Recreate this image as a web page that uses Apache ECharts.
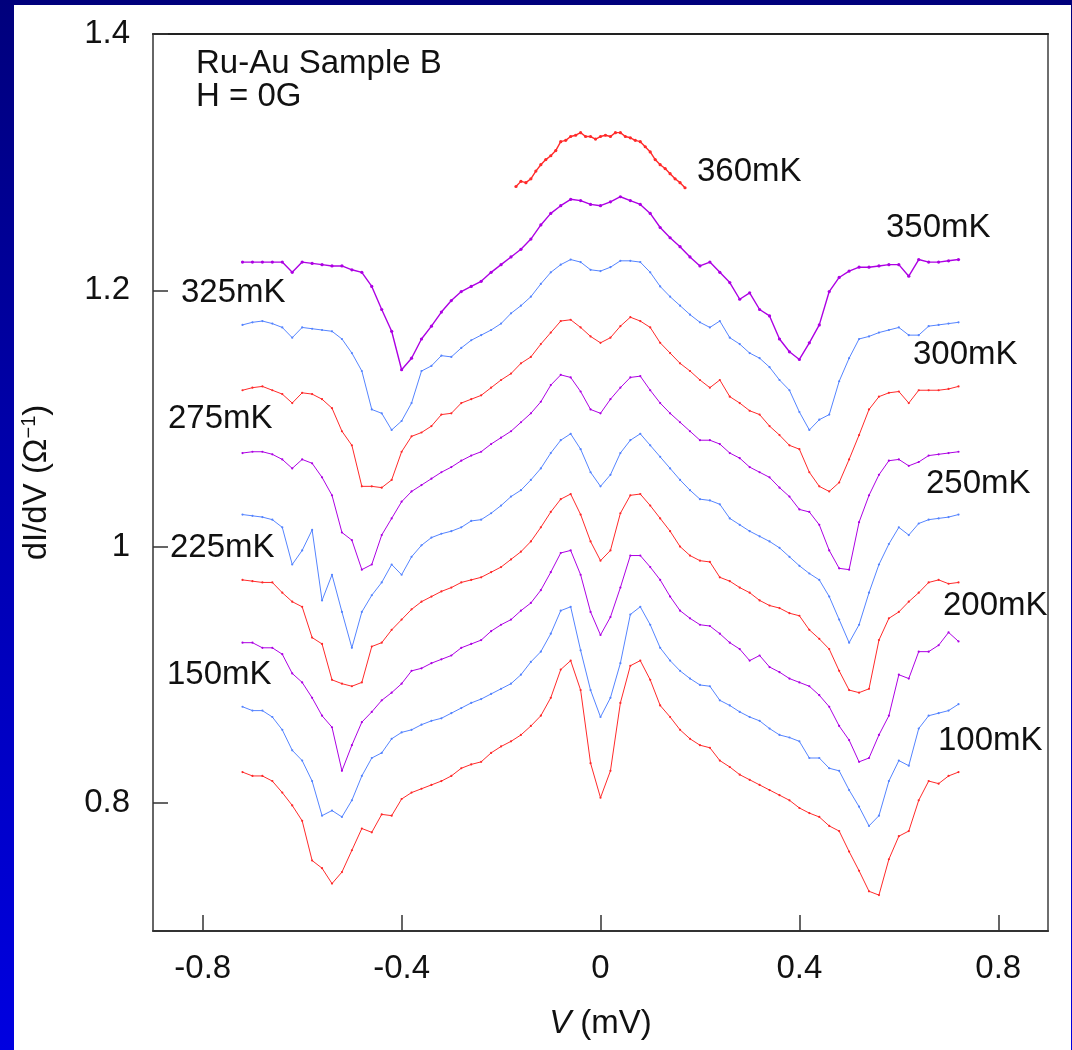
<!DOCTYPE html>
<html>
<head>
<meta charset="utf-8">
<script src="https://cdn.jsdelivr.net/npm/echarts@6/dist/echarts.min.js"></script>
<style>
html,body{margin:0;padding:0;width:1072px;height:1050px;overflow:hidden;
  background:linear-gradient(to bottom,#00007c 0%,#0000a8 40%,#0000e0 100%);}
#paper{position:absolute;left:14px;top:5px;width:1057px;height:1045px;background:#ffffff;}
#chart{position:absolute;left:0;top:0;width:1072px;height:1050px;}
</style>
</head>
<body>
<div id="paper"></div>
<div id="chart"></div>
<script>
// ---- data (V in mV, dI/dV in 1/Ohm) ----
const voltage = [-0.72,-0.70,-0.68,-0.66,-0.64,-0.62,-0.60,-0.58,-0.56,-0.54,-0.52,-0.50,-0.48,-0.46,-0.44,-0.42,-0.40,-0.38,-0.36,-0.34,-0.32,-0.30,-0.28,-0.26,-0.24,-0.22,-0.20,-0.18,-0.16,-0.14,-0.12,-0.10,-0.08,-0.06,-0.04,-0.02,0,0.02,0.04,0.06,0.08,0.10,0.12,0.14,0.16,0.18,0.20,0.22,0.24,0.26,0.28,0.30,0.32,0.34,0.36,0.38,0.40,0.42,0.44,0.46,0.48,0.50,0.52,0.54,0.56,0.58,0.60,0.62,0.64,0.66,0.68,0.70,0.72];
const voltage360 = [-0.17,-0.16,-0.15,-0.14,-0.13,-0.12,-0.11,-0.10,-0.09,-0.08,-0.07,-0.06,-0.05,-0.04,-0.03,-0.02,-0.01,0,0.01,0.02,0.03,0.04,0.05,0.06,0.07,0.08,0.09,0.10,0.11,0.12,0.13,0.14,0.15,0.16,0.17];

const dIdV_360mK = [1.281,1.285,1.284,1.287,1.293,1.298,1.302,1.305,1.309,1.316,1.317,1.320,1.321,1.323,1.320,1.320,1.318,1.320,1.321,1.320,1.323,1.323,1.320,1.319,1.317,1.316,1.312,1.308,1.302,1.298,1.295,1.291,1.287,1.284,1.280];
const dIdV_350mK = [1.222,1.222,1.222,1.222,1.222,1.214,1.222,1.221,1.220,1.219,1.219,1.216,1.214,1.203,1.185,1.168,1.138,1.147,1.162,1.172,1.183,1.192,1.199,1.203,1.207,1.214,1.220,1.226,1.232,1.240,1.251,1.260,1.266,1.271,1.270,1.267,1.266,1.269,1.273,1.270,1.267,1.260,1.249,1.241,1.234,1.226,1.219,1.222,1.214,1.206,1.193,1.198,1.185,1.180,1.162,1.152,1.146,1.159,1.173,1.199,1.210,1.215,1.218,1.218,1.219,1.220,1.220,1.211,1.224,1.222,1.222,1.223,1.224];
const dIdV_325mK = [1.173,1.175,1.176,1.174,1.171,1.163,1.171,1.170,1.169,1.168,1.162,1.151,1.137,1.107,1.104,1.091,1.098,1.112,1.137,1.141,1.149,1.148,1.155,1.161,1.165,1.169,1.174,1.182,1.188,1.195,1.205,1.214,1.220,1.224,1.222,1.216,1.215,1.218,1.223,1.223,1.222,1.214,1.203,1.195,1.188,1.181,1.175,1.171,1.176,1.163,1.158,1.151,1.147,1.140,1.130,1.122,1.105,1.091,1.099,1.103,1.129,1.147,1.162,1.164,1.167,1.169,1.171,1.165,1.165,1.172,1.173,1.174,1.175];
const dIdV_300mK = [1.122,1.124,1.125,1.122,1.119,1.112,1.120,1.119,1.115,1.108,1.090,1.079,1.047,1.047,1.046,1.052,1.074,1.086,1.089,1.094,1.103,1.104,1.112,1.115,1.118,1.124,1.130,1.135,1.143,1.148,1.158,1.167,1.176,1.177,1.171,1.164,1.159,1.163,1.172,1.179,1.176,1.171,1.159,1.151,1.143,1.137,1.130,1.124,1.130,1.117,1.112,1.106,1.103,1.094,1.087,1.079,1.076,1.058,1.047,1.043,1.050,1.068,1.087,1.107,1.117,1.120,1.121,1.112,1.122,1.122,1.122,1.123,1.125];
const dIdV_275mK = [1.073,1.074,1.074,1.072,1.068,1.061,1.068,1.065,1.054,1.040,1.011,1.005,0.982,0.986,1.009,1.022,1.035,1.043,1.048,1.053,1.058,1.062,1.067,1.071,1.074,1.080,1.085,1.090,1.097,1.104,1.113,1.126,1.134,1.132,1.121,1.107,1.104,1.115,1.124,1.132,1.133,1.122,1.112,1.104,1.097,1.090,1.083,1.083,1.080,1.073,1.069,1.062,1.058,1.054,1.046,1.039,1.029,1.027,1.017,0.997,0.983,0.982,1.019,1.040,1.056,1.067,1.068,1.063,1.066,1.071,1.072,1.073,1.074];
const dIdV_250mK = [1.025,1.024,1.023,1.021,1.015,0.986,0.997,1.013,0.958,0.978,0.949,0.921,0.949,0.962,0.972,0.986,0.978,0.992,1.001,1.007,1.010,1.012,1.015,1.020,1.021,1.026,1.032,1.039,1.044,1.052,1.061,1.073,1.083,1.088,1.076,1.058,1.047,1.056,1.073,1.083,1.088,1.079,1.070,1.061,1.052,1.044,1.037,1.036,1.033,1.022,1.017,1.012,1.008,1.004,0.999,0.992,0.985,0.979,0.974,0.961,0.943,0.925,0.939,0.964,0.986,1.002,1.015,1.009,1.018,1.021,1.022,1.023,1.025];
const dIdV_225mK = [0.974,0.973,0.972,0.972,0.964,0.957,0.953,0.929,0.924,0.896,0.893,0.891,0.894,0.922,0.925,0.935,0.943,0.951,0.957,0.961,0.965,0.968,0.972,0.974,0.976,0.980,0.984,0.990,0.996,1.004,1.015,1.027,1.037,1.041,1.025,1.004,0.989,0.997,1.026,1.040,1.041,1.032,1.022,1.012,1.000,0.993,0.989,0.988,0.976,0.973,0.968,0.964,0.958,0.954,0.952,0.948,0.946,0.935,0.928,0.920,0.903,0.888,0.886,0.889,0.927,0.944,0.949,0.957,0.964,0.972,0.974,0.971,0.972];
const dIdV_200mK = [0.925,0.925,0.921,0.921,0.916,0.901,0.894,0.882,0.868,0.859,0.825,0.845,0.863,0.871,0.880,0.886,0.893,0.903,0.905,0.909,0.912,0.915,0.921,0.924,0.927,0.934,0.939,0.943,0.950,0.956,0.966,0.980,0.995,0.997,0.978,0.949,0.931,0.945,0.968,0.993,0.993,0.984,0.974,0.961,0.950,0.944,0.939,0.938,0.932,0.925,0.920,0.911,0.915,0.906,0.902,0.897,0.894,0.891,0.884,0.875,0.860,0.849,0.832,0.835,0.853,0.868,0.900,0.897,0.918,0.918,0.923,0.933,0.926];
const dIdV_150mK = [0.875,0.872,0.872,0.867,0.857,0.841,0.833,0.817,0.790,0.794,0.789,0.802,0.821,0.835,0.839,0.850,0.855,0.857,0.861,0.864,0.866,0.870,0.874,0.878,0.881,0.885,0.889,0.893,0.900,0.910,0.918,0.932,0.950,0.953,0.919,0.888,0.867,0.882,0.909,0.947,0.953,0.939,0.921,0.911,0.903,0.897,0.892,0.891,0.880,0.876,0.871,0.867,0.864,0.858,0.853,0.851,0.848,0.835,0.835,0.827,0.825,0.810,0.797,0.782,0.790,0.817,0.833,0.829,0.858,0.868,0.870,0.872,0.877];
const dIdV_100mK = [0.824,0.821,0.821,0.817,0.808,0.798,0.786,0.755,0.749,0.737,0.746,0.763,0.780,0.777,0.791,0.790,0.803,0.808,0.811,0.814,0.817,0.821,0.827,0.830,0.832,0.839,0.844,0.848,0.853,0.860,0.868,0.882,0.904,0.911,0.888,0.831,0.804,0.825,0.878,0.907,0.911,0.896,0.876,0.867,0.857,0.850,0.845,0.843,0.833,0.828,0.822,0.818,0.814,0.810,0.806,0.802,0.796,0.792,0.789,0.782,0.778,0.762,0.747,0.731,0.728,0.756,0.774,0.778,0.802,0.817,0.815,0.821,0.824];

const temperatureLabels = ['360mK','350mK','325mK','300mK','275mK','250mK','225mK','200mK','150mK','100mK'];
const xTickValues = [-0.8,-0.4,0,0.4,0.8];
const yTickValues = [0.8,1,1.2,1.4];
const annotationLines = ['Ru-Au Sample B','H = 0G'];

// ---- styling / layout ----
const FONT = '"Liberation Sans", Arial, Helvetica, sans-serif';
const FS = 33;
const RED = '#ff2a2a', PURPLE = '#ad00e3', BLUE = '#5584ff';
const curves = [
  {x: voltage360, y: dIdV_360mK, color: RED, bold: true},
  {x: voltage, y: dIdV_350mK, color: PURPLE, bold: true},
  {x: voltage, y: dIdV_325mK, color: BLUE},
  {x: voltage, y: dIdV_300mK, color: RED},
  {x: voltage, y: dIdV_275mK, color: PURPLE},
  {x: voltage, y: dIdV_250mK, color: BLUE},
  {x: voltage, y: dIdV_225mK, color: RED},
  {x: voltage, y: dIdV_200mK, color: PURPLE},
  {x: voltage, y: dIdV_150mK, color: BLUE},
  {x: voltage, y: dIdV_100mK, color: RED}
];
// pixel anchors (left x, middle y) for the curve labels
const labelAnchors = [[697,172],[886,228],[181,293],[913,355],[168,419],[926,484],[170,548],[943,606],[167,675],[938,741]];
const annotationAnchors = [[196,64],[196,97]];

const chart = echarts.init(document.getElementById('chart'), null, {renderer: 'canvas'});
const fmt = v => (v === 0 ? '0' : String(v));
const AX = '#333333';

const graphics = [];
temperatureLabels.forEach((t, i) => {
  graphics.push({type: 'text', x: labelAnchors[i][0], y: labelAnchors[i][1], silent: true,
    style: {text: t, fontSize: FS, fontFamily: FONT, fill: '#111', verticalAlign: 'middle', align: 'left'}});
});
annotationLines.forEach((t, i) => {
  graphics.push({type: 'text', x: annotationAnchors[i][0], y: annotationAnchors[i][1], silent: true,
    style: {text: t, fontSize: FS, fontFamily: FONT, fill: '#111', verticalAlign: 'middle', align: 'left'}});
});

const option = {
  animation: false,
  grid: {left: 153, top: 34, right: 24, bottom: 119, show: false},
  xAxis: [{
    type: 'value', min: -0.9, max: 0.9, position: 'bottom',
    axisLine: {show: true, onZero: false, lineStyle: {color: AX, width: 2}},
    axisTick: {show: true, inside: true, length: 16, customValues: xTickValues, lineStyle: {color: AX, width: 1.5}},
    axisLabel: {show: true, customValues: xTickValues, margin: 21, fontSize: FS, lineHeight: 34, fontFamily: FONT, color: '#111', formatter: fmt},
    splitLine: {show: false},
    name: '{i|V} (mV)', nameLocation: 'middle', nameGap: 75,
    nameTextStyle: {fontSize: FS, fontFamily: FONT, color: '#111', lineHeight: 36,
      rich: {i: {fontStyle: 'italic', fontSize: FS, fontFamily: FONT, color: '#111', lineHeight: 36}}}
  }, {
    type: 'value', min: -0.9, max: 0.9, position: 'top',
    axisLine: {show: true, onZero: false, lineStyle: {color: '#222', width: 2}},
    axisTick: {show: false}, axisLabel: {show: false}, splitLine: {show: false}
  }],
  yAxis: [{
    type: 'value', min: 0.7, max: 1.4, position: 'left',
    axisLine: {show: true, onZero: false, lineStyle: {color: AX, width: 1.5}},
    axisTick: {show: true, inside: true, length: 15, customValues: yTickValues, lineStyle: {color: AX, width: 1.5}},
    axisLabel: {show: true, customValues: yTickValues, margin: 23, fontSize: FS, fontFamily: FONT, color: '#111', formatter: fmt},
    splitLine: {show: false},
    name: '{n|dI/dV (Ω}{s|−1}{n|)}', nameLocation: 'middle', nameGap: 98,
    nameTextStyle: {fontSize: FS, fontFamily: FONT, color: '#111',
      rich: {
        n: {fontSize: FS, fontFamily: FONT, color: '#111', lineHeight: 36},
        s: {fontSize: 20, fontFamily: FONT, color: '#111', verticalAlign: 'top', lineHeight: 20}
      }}
  }, {
    type: 'value', min: 0.7, max: 1.4, position: 'right',
    axisLine: {show: true, onZero: false, lineStyle: {color: '#6e6e6e', width: 2}},
    axisTick: {show: false}, axisLabel: {show: false}, splitLine: {show: false}
  }],
  graphic: graphics,
  series: curves.map((c, k) => ({
    type: 'line', name: temperatureLabels[k],
    data: c.x.map((v, i) => [v, c.y[i]]).filter(p => p[1] != null),
    xAxisIndex: 0, yAxisIndex: 0,
    symbol: 'circle', symbolSize: c.bold ? 3.2 : 2.2, showSymbol: true, showAllSymbol: true,
    lineStyle: {color: c.color, width: c.bold ? 1.4 : 1},
    itemStyle: {color: c.color},
    silent: true, emphasis: {disabled: true}
  }))
};
chart.setOption(option);
</script>
</body>
</html>
